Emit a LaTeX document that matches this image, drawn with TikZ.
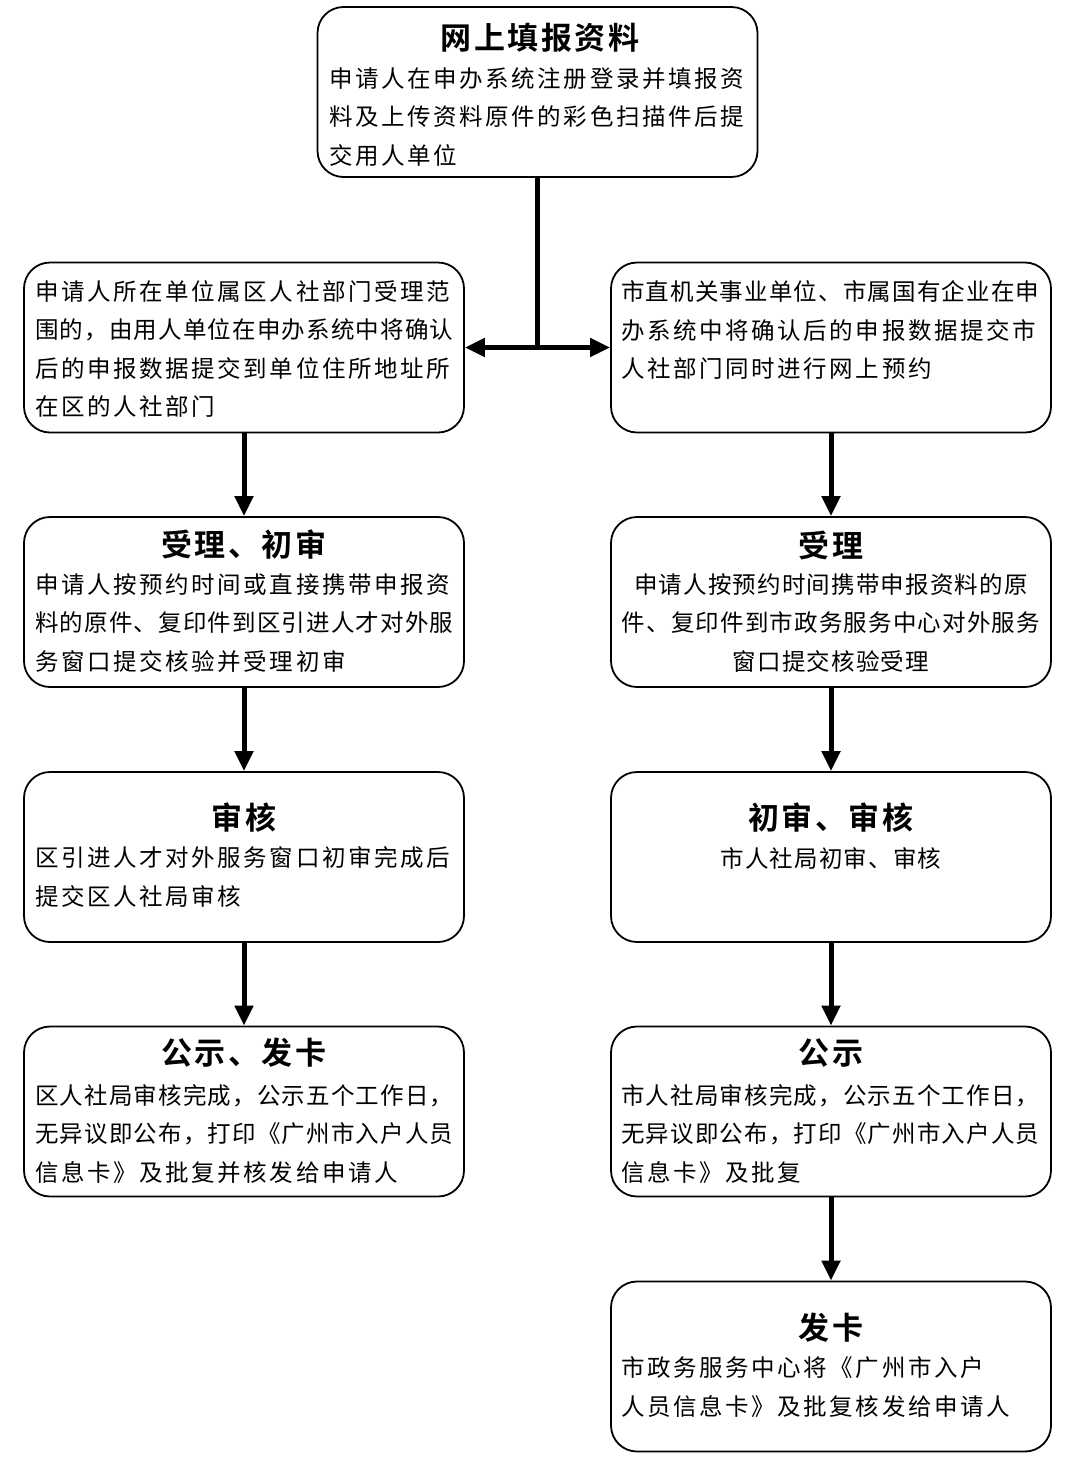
\documentclass[tikz,border=0pt]{standalone}
\usepackage{fontspec}
\setmainfont{Noto Sans CJK SC}
\newfontfamily\bodyfont[LetterSpace=11]{Noto Sans CJK SC}
\newfontfamily\bodyfontb[LetterSpace=5]{Noto Sans CJK SC}
\newfontfamily\titlefont[LetterSpace=8]{Noto Sans CJK SC Bold}
\newcommand{\tight}[1]{{\bodyfontb\fontsize{23.5}{38.2}\selectfont #1}}
\usetikzlibrary{arrows.meta}
\begin{document}
\begin{tikzpicture}[x=1pt,y=-1pt,
  box/.style={draw, line width=1.8pt, rounded corners=26pt, minimum width=440pt, minimum height=170pt, inner sep=0pt},
  ttl/.style={inner sep=0pt, font=\titlefont\fontsize{31}{34}\selectfont},
  bodytxt/.style={inner sep=0pt, align=left, anchor=west, font=\bodyfont\fontsize{23.5}{38.2}\selectfont},
  bodyctr/.style={inner sep=0pt, align=center, font=\bodyfontb\fontsize{23.5}{38.2}\selectfont},
  flow/.style={line width=5pt, -{Triangle[length=20pt,width=18pt]}},
  link/.style={line width=5pt}]
\useasboundingbox (0,0) rectangle (1080,1465);
\fill[white] (0,0) rectangle (1080,1465);
% boxes
\node[box] (top) at (537.5,92) {};
\node[box] (L1) at (244,347.5) {};
\node[box] (R1) at (831,347.5) {};
\node[box] (L2) at (244,602) {};
\node[box] (R2) at (831,602) {};
\node[box] (L3) at (244,857) {};
\node[box] (R3) at (831,857) {};
\node[box] (L4) at (244,1111.5) {};
\node[box] (R4) at (831,1111.5) {};
\node[box] (R5) at (831,1366.5) {};
% titles
\node[ttl] (tTop) at (540,38) {网上填报资料};
\node[ttl] (tL2) at (244,545) {受理、初审};
\node[ttl] (tR2) at (831,545) {受理};
\node[ttl] (tL3) at (244,818) {审核};
\node[ttl] (tR3) at (831,818) {初审、审核};
\node[ttl] (tL4) at (244,1053) {公示、发卡};
\node[ttl] (tR4) at (831,1053) {公示};
\node[ttl] (tR5) at (831,1328) {发卡};
% body texts
\node[bodytxt] (bTop) at (329,117) {申请人在申办系统注册登录并填报资\\料及上传资料原件的彩色扫描件后提\\交用人单位};
\node[bodytxt] (bL1) at (35,349) {申请人所在单位属区人社部门受理范\\\tight{围的，由用人单位在申办系统中将确认}\\后的申报数据提交到单位住所地址所\\在区的人社部门};
\node[bodytxt] (bR1) at (621,330) {\tight{市直机关事业单位、市属国有企业在申}\\办系统中将确认后的申报数据提交市\\人社部门同时进行网上预约};
\node[bodytxt] (bL2) at (35,623) {申请人按预约时间或直接携带申报资\\\tight{料的原件、复印件到区引进人才对外服}\\务窗口提交核验并受理初审};
\node[bodyctr] (bR2) at (831,623) {申请人按预约时间携带申报资料的原\\件、复印件到市政务服务中心对外服务\\窗口提交核验受理};
\node[bodytxt] (bL3) at (35,877) {区引进人才对外服务窗口初审完成后\\提交区人社局审核};
\node[bodyctr] (bR3) at (831,858) {市人社局初审、审核};
\node[bodytxt] (bL4) at (35,1134) {\tight{区人社局审核完成，公示五个工作日，}\\\tight{无异议即公布，打印《广州市入户人员}\\信息卡》及批复并核发给申请人};
\node[bodytxt] (bR4) at (621,1134) {\tight{市人社局审核完成，公示五个工作日，}\\\tight{无异议即公布，打印《广州市入户人员}\\信息卡》及批复};
\node[bodytxt] (bR5) at (621,1387) {市政务服务中心将《广州市入户\\人员信息卡》及批复核发给申请人};
% connectors
\coordinate (j) at (top.south |- L1.east);
\draw[link] (top.south) -- (j);
\draw[line width=5pt, {Triangle[length=20pt,width=18pt]}-{Triangle[length=20pt,width=18pt]}] (L1.east) -- (R1.west);
\draw[flow] (L1.south) -- (L2.north);
\draw[flow] (L2.south) -- (L3.north);
\draw[flow] (L3.south) -- (L4.north);
\draw[flow] (R1.south) -- (R2.north);
\draw[flow] (R2.south) -- (R3.north);
\draw[flow] (R3.south) -- (R4.north);
\draw[flow] (R4.south) -- (R5.north);
\end{tikzpicture}
\end{document}
